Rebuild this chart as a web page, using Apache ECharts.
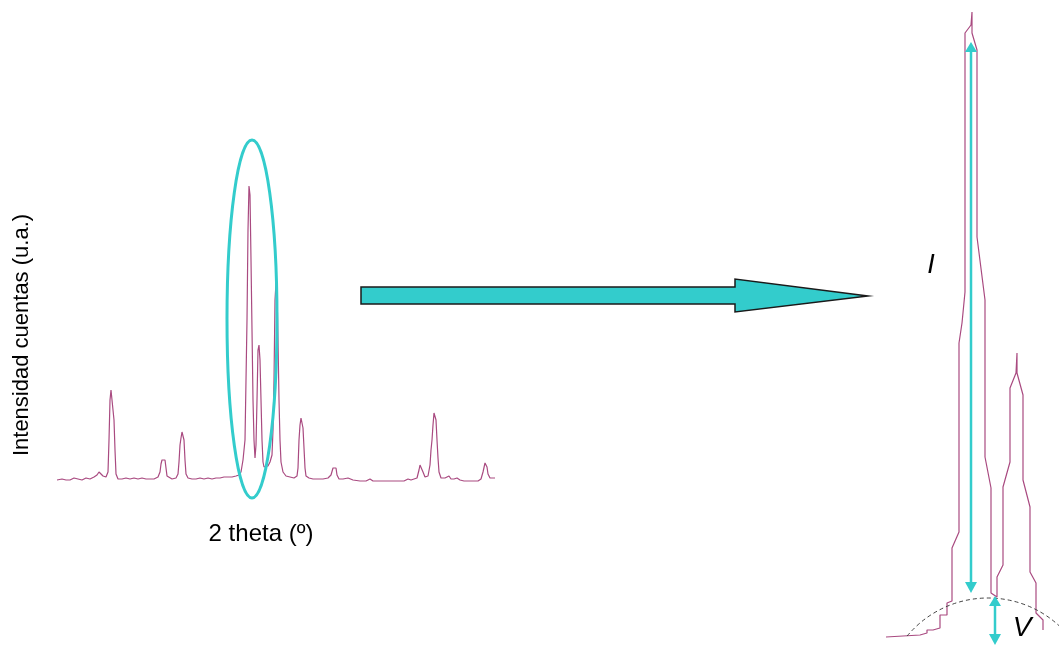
<!DOCTYPE html>
<html><head><meta charset="utf-8">
<script src="https://cdn.jsdelivr.net/npm/echarts@6/dist/echarts.min.js"></script>
<style>html,body{margin:0;padding:0;background:#fff}#c{width:1059px;height:646px}</style>
</head><body><div id="c"></div><script>
// Full diffraction pattern (2θ in degrees, intensity in counts)
const twoTheta = [10.0,11.0,11.8,12.6,13.4,14.2,15.0,15.8,16.6,17.4,18.0,18.4,18.8,19.2,19.8,20.2,20.4,20.6,20.8,21.0,21.2,21.4,21.6,21.8,22.2,23.0,23.8,24.6,25.4,26.2,27.0,27.8,28.6,29.4,30.2,30.6,30.8,31.0,31.4,31.6,31.8,32.0,32.4,33.0,33.8,34.2,34.4,34.6,34.8,35.0,35.2,35.4,35.6,35.8,36.2,37.0,37.8,38.6,39.4,40.2,41.0,41.8,42.6,43.4,44.2,45.0,45.8,46.4,46.8,47.0,47.2,47.4,47.6,47.8,48.0,48.2,48.4,48.6,48.8,49.0,49.2,49.4,49.6,49.8,50.0,50.2,50.4,50.6,50.8,51.0,51.2,51.4,51.8,52.2,52.6,53.0,53.2,53.4,53.6,53.8,54.0,54.2,54.4,54.6,54.8,55.2,55.8,56.6,57.4,58.0,58.2,58.4,58.6,58.8,59.0,59.2,59.4,59.6,59.8,60.4,61.2,62.2,63.2,64.2,64.8,65.2,65.4,65.8,66.0,66.4,67.2,68.2,68.6,69.2,70.6,71.8,72.6,73.2,74.6,76.2,77.8,79.4,80.2,80.8,81.4,82.0,82.4,82.6,83.0,83.2,83.6,84.2,84.6,84.8,85.0,85.2,85.4,85.6,85.8,86.0,86.2,86.4,86.8,87.6,88.0,88.4,88.8,89.4,90.0,90.6,91.4,92.6,94.2,94.8,95.2,95.6,95.8,96.0,96.2,96.6,97.2,97.6];
const counts = [20,30,20,20,40,30,20,40,30,50,70,100,100,60,50,100,420,820,920,940,900,620,320,80,30,30,40,30,40,30,40,30,30,30,50,100,180,220,240,220,140,60,40,30,40,80,200,370,440,500,520,420,220,80,40,30,30,40,30,40,30,40,40,50,50,50,60,70,100,160,220,320,420,1020,1620,2520,2960,2870,2220,1520,820,420,240,370,820,1320,1370,1220,820,420,200,150,140,160,200,270,520,1020,1820,1990,1920,1420,820,420,200,100,60,50,40,60,140,420,570,640,630,540,340,140,60,40,30,30,30,40,70,140,160,140,70,30,30,40,40,20,10,10,30,10,10,10,10,10,30,20,30,40,120,170,160,100,50,60,170,320,420,570,690,700,620,420,240,100,40,40,60,60,30,30,40,20,10,10,10,30,100,190,200,150,80,40,40,40];

// Zoomed view of the main doublet
const zoomTwoTheta = [46.0,47.7,47.7,48.05,48.05,48.35,48.35,48.7,48.7,49.05,49.05,49.3,49.3,49.65,49.65,49.8,49.95,49.95,50.25,50.3,50.3,50.55,50.55,50.95,50.95,51.25,51.25,51.55,51.55,51.85,51.85,52.2,52.2,52.5,52.55,52.55,52.85,52.85,53.2,53.2,53.5,53.5,53.85,53.85];
const zoomCounts = [15,25,35,35,50,50,60,60,125,125,185,195,460,540,1485,1585,1740,3035,3075,3140,3035,2950,2015,1700,915,760,235,215,315,375,765,890,1260,1335,1435,1335,1225,800,665,340,285,135,100,50];

const xLabel = '2 theta (º)';
const yLabel = 'Intensidad cuentas (u.a.)';
const labelI = 'I';
const labelV = 'V';

const pattern = twoTheta.map((t, i) => [t, counts[i]]);
const zoomPattern = zoomTwoTheta.map((t, i) => [t, zoomCounts[i]]);

const FONT = '"Liberation Sans", Arial, sans-serif';
const CYAN = '#33cccc';
const LINE = '#a94a80';

const chart = echarts.init(document.getElementById('c'), null, {renderer: 'canvas'});
const hiddenAxis = {
  axisLine: {show: false}, axisTick: {show: false}, axisLabel: {show: false}, splitLine: {show: false}
};

chart.setOption({
  animation: false,
  backgroundColor: '#fff',
  grid: [
    {left: 57, right: 564, top: 180, bottom: 164},
    {left: 886, right: 13, top: 12, bottom: 6}
  ],
  xAxis: [
    Object.assign({type: 'value', gridIndex: 0, min: 10, max: 97.6,
      name: xLabel, nameLocation: 'middle', nameGap: 40,
      nameTextStyle: {fontFamily: FONT, fontSize: 24, color: '#000', padding: [0, 30, 0, 0]}}, hiddenAxis),
    Object.assign({type: 'value', gridIndex: 1, min: 46, max: 54}, hiddenAxis)
  ],
  yAxis: [
    Object.assign({type: 'value', gridIndex: 0, min: 0, max: 3020,
      name: yLabel, nameLocation: 'middle', nameRotate: 90, nameGap: 24,
      nameTextStyle: {fontFamily: FONT, fontSize: 22, color: '#000', padding: [0, 8, 0, 0]}}, hiddenAxis),
    Object.assign({type: 'value', gridIndex: 1, min: 0, max: 3140}, hiddenAxis)
  ],
  series: [
    {type: 'line', xAxisIndex: 0, yAxisIndex: 0, data: pattern, showSymbol: false,
      lineStyle: {color: LINE, width: 1.2}, z: 2},
    {type: 'line', xAxisIndex: 1, yAxisIndex: 1, data: zoomPattern, showSymbol: false,
      lineStyle: {color: LINE, width: 1.2}, z: 2}
  ],
  graphic: [
    {type: 'ellipse', z: 100, shape: {cx: 252, cy: 319, rx: 25, ry: 179},
      style: {fill: 'none', stroke: CYAN, lineWidth: 3}},
    {type: 'polygon', z: 100, shape: {points: [[361,287],[735,287],[735,279],[868,296],[735,312],[735,304],[361,304]]},
      style: {fill: CYAN, stroke: '#1a1a1a', lineWidth: 1.5}},
    // I arrow
    {type: 'line', z: 100, shape: {x1: 971, y1: 51, x2: 971, y2: 583}, style: {stroke: CYAN, lineWidth: 2.5}},
    {type: 'polygon', z: 100, shape: {points: [[971,42],[977,52],[965,52]]}, style: {fill: CYAN}},
    {type: 'polygon', z: 100, shape: {points: [[971,593],[977,582],[965,582]]}, style: {fill: CYAN}},
    // V arrow
    {type: 'line', z: 100, shape: {x1: 995, y1: 605, x2: 995, y2: 635}, style: {stroke: CYAN, lineWidth: 2.5}},
    {type: 'polygon', z: 100, shape: {points: [[995,596],[1001,606],[989,606]]}, style: {fill: CYAN}},
    {type: 'polygon', z: 100, shape: {points: [[995,645],[1001,634],[989,634]]}, style: {fill: CYAN}},
    // background arc
    {type: 'arc', z: 99, shape: {cx: 988, cy: 703, r: 105, startAngle: -2.45, endAngle: -0.78, clockwise: true},
      style: {fill: 'none', stroke: '#444', lineWidth: 1, lineDash: [4, 3]}},
    {type: 'text', z: 100, x: 931, y: 265, style: {text: labelI, font: 'italic 27px ' + FONT, fill: '#000', align: 'center', verticalAlign: 'middle'}},
    {type: 'text', z: 100, x: 1022, y: 628, style: {text: labelV, font: 'italic 28px ' + FONT, fill: '#000', align: 'center', verticalAlign: 'middle'}}
  ]
});
</script></body></html>
